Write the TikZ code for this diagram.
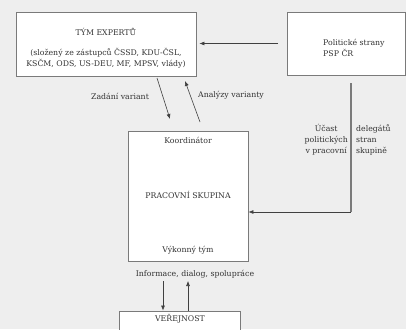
\documentclass[tikz,border=0pt]{standalone}
\usepackage{fontspec}
\setmainfont{DejaVu Serif}
\usetikzlibrary{arrows.meta}
\definecolor{bggray}{HTML}{EEEEEE}
\definecolor{boxline}{HTML}{7A7A7A}
\definecolor{txtgray}{HTML}{333333}

\tikzset{
  box/.style={draw=boxline, fill=white, line width=0.9pt, inner sep=0pt},
  lbl/.style={font=\fontsize{7.8}{11}\selectfont, text=txtgray, inner sep=0pt},
  arr/.style={-{Latex[length=5pt,width=4pt]}, black!75, line width=0.6pt}
}

\begin{document}
\begin{tikzpicture}[x=1pt, y=-1pt]
    % Background
    \fill[bggray] (0,0) rectangle (406,329);
    \useasboundingbox (0,0) rectangle (406,329);

    % Boxes
    \node[box, minimum width=180pt, minimum height=64pt] (tym) at (106,44) {};
    \node[box, minimum width=118pt, minimum height=63pt] (pol) at (346,43.5) {};
    \node[box, minimum width=120pt, minimum height=130pt] (ps) at (188,196) {};
    \node[box, minimum width=121pt, minimum height=34pt] (vej) at (179.5,328) {};

    % Box texts
    \node[lbl] (tymtitle) at (106,32) {TÝM EXPERTŮ};
    \node[lbl, align=center] (tymsub) at (106,58.5) {(složený ze zástupců ČSSD, KDU-ČSL,\\KSČM, ODS, US-DEU, MF, MPSV, vlády)};
    \node[lbl, align=left, anchor=west] (poltext) at (323,47.5) {Politické strany\\PSP ČR};
    \node[lbl] (koord) at (188,140) {Koordinátor};
    \node[lbl] (pstitle) at (188,195) {PRACOVNÍ SKUPINA};
    \node[lbl] (vykon) at (188,250) {Výkonný tým};
    \node[lbl] (vejtitle) at (180,319) {VEŘEJNOST};

    % Connector end points
    \coordinate (zadA) at (157,78);
    \coordinate (zadB) at (170,119);
    \coordinate (anaA) at (200,122);
    \coordinate (anaB) at (185,81);
    \coordinate (polA) at (278,43.5);
    \coordinate (delA) at (351,83);
    \coordinate (delB) at (351,212);
    \coordinate (infA) at (163,281);
    \coordinate (infB) at (188,281);

    % Connectors
    \draw[arr, shorten >=3pt] (polA) -- (tym.east |- polA);
    \draw[arr] (zadA) -- (zadB);
    \draw[arr] (anaA) -- (anaB);
    \draw[boxline, line width=1.4pt] (delA) -- (delB);
    \draw[arr] (delB) -- (ps.east |- delB);
    \draw[arr] (infA) -- (vej.north -| infA);
    \draw[arr] (vej.north -| infB) -- (infB);

    % Connector labels
    \node[lbl] (zadlbl) at (120,96) {Zadání variant};
    \node[lbl] (analbl) at (231,95) {Analýzy varianty};
    \node[lbl, align=center, anchor=east] (dellblA) at (348,140) {Účast\\politických\\v pracovní};
    \node[lbl, align=left, anchor=west] (dellblB) at (356,140) {delegátů\\stran\\skupině};
    \node[lbl] (inflbl) at (195,274) {Informace, dialog, spolupráce};
\end{tikzpicture}
\end{document}
